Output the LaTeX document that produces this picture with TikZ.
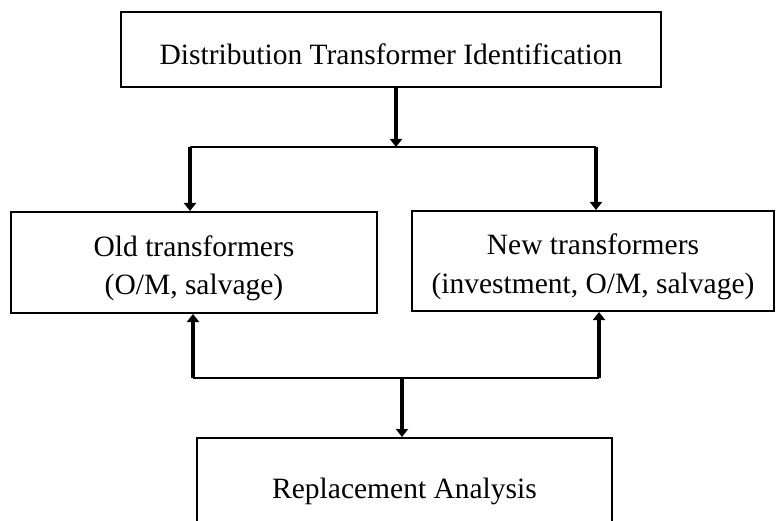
\documentclass[tikz,border=0pt]{standalone}
\usepackage{fontspec}
\setmainfont{Liberation Serif}
\usetikzlibrary{arrows.meta}
\begin{document}
\begin{tikzpicture}[x=1pt, y=-1pt,
	box/.style={draw, line width=2pt, inner sep=0pt},
	txt/.style={align=center, inner sep=0pt, font=\fontsize{29.5}{38.5}\selectfont},
	conn/.style={line width=2.6pt},
	arr/.style={line width=3.8pt, -{Triangle[length=8pt, width=12pt]}}]
	\useasboundingbox (0,0) rectangle (776,521);
	
	% Hộp trên cùng
	\node[box, minimum width=540pt, minimum height=75pt] (ident) at (391, 49.5) {};
	\node[txt] (identtext) at ([yshift=-5pt]ident.center) {Distribution Transformer Identification};
	
	% Hai hộp giữa
	\node[box, minimum width=366pt, minimum height=101pt] (old) at (194, 262.5) {};
	\node[txt] (oldtext) at ([yshift=-6pt]old.center) {Old transformers\\(O/M, salvage)};
	\node[box, minimum width=362pt, minimum height=100pt] (new) at (593, 261) {};
	\node[txt] (newtext) at ([yshift=-6pt]new.center) {New transformers\\(investment, O/M, salvage)};
	
	% Hộp dưới (bị cắt ở mép)
	\node[box, minimum width=415pt, minimum height=106pt] (repl) at (404.5, 491) {};
	\node[txt] (repltext) at (repl.center) {Replacement Analysis};
	
	% Nhánh trên
	\coordinate (tsplit) at (396, 147);
	\coordinate (tleft) at (190, 147);
	\coordinate (tright) at (596, 147);
	\draw[arr] (tsplit |- ident.south) -- (tsplit);
	\draw[conn] (tleft) -- (tright);
	\draw[arr] (tleft) -- (tleft |- old.north);
	\draw[arr] (tright) -- (tright |- new.north);
	
	% Nhánh dưới
	\coordinate (bleft) at (193, 378);
	\coordinate (bright) at (599, 378);
	\coordinate (bmid) at (402, 378);
	\draw[conn] (bleft) -- (bright);
	\draw[arr] (bleft) -- (bleft |- old.south);
	\draw[arr] (bright) -- (bright |- new.south);
	\draw[arr] (bmid) -- (bmid |- repl.north);
\end{tikzpicture}
\end{document}
